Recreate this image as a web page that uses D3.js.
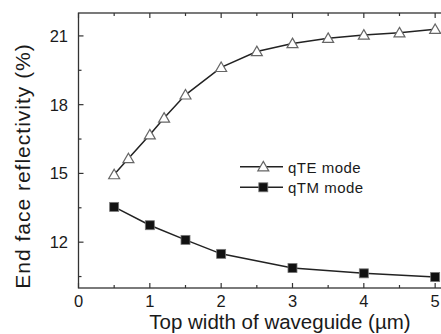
<!DOCTYPE html>
<html>
<head>
<meta charset="utf-8">
<script src="https://cdn.jsdelivr.net/npm/d3@7"></script>
<style>
  body { margin: 0; background: #fff; }
  text { font-family: Arial, "Liberation Sans", sans-serif; fill: #1a1a1a; }
</style>
</head>
<body>
<div class="chart"></div>
<script>

// Data
var teWidth = [0.5, 0.7, 1.0, 1.2, 1.5, 2.0, 2.5, 3.0, 3.5, 4.0, 4.5, 5.0];
var teRefl  = [14.95, 15.65, 16.69, 17.42, 18.43, 19.63, 20.32, 20.67, 20.9, 21.04, 21.14, 21.29];
var tmWidth = [0.5, 1.0, 1.5, 2.0, 3.0, 4.0, 5.0];
var tmRefl  = [13.54, 12.74, 12.1, 11.49, 10.87, 10.64, 10.48];
var xTicks = [0, 1, 2, 3, 4, 5];
var yTicks = [12, 15, 18, 21];
var seriesNames = ["qTE mode", "qTM mode"];

var W = 441, H = 334;

var svg = d3.select(".chart")
	.append("svg")
	.attr("width", W)
	.attr("height", H);

var x = d3.scaleLinear()
	.domain([0, 5.11])
	.range([78.5, 443]);

var y = d3.scaleLinear()
	.domain([10, 22])
	.range([288, 13]);

var axisColor = "#333";

// frame
svg.append("rect")
	.attr("x", x(0))
	.attr("y", y(22))
	.attr("width", x(5.11) - x(0))
	.attr("height", y(10) - y(22))
	.attr("fill", "none")
	.attr("stroke", axisColor)
	.attr("stroke-width", 1.3);

// ticks, inward
var xMinor = d3.range(0.5, 5.01, 1);
var yMinor = d3.range(10.5, 22, 3);

function xTickMarks(vals, len) {
	svg.append("g").selectAll("line.b")
		.data(vals).enter().append("line")
		.attr("x1", function(d) { return x(d); })
		.attr("x2", function(d) { return x(d); })
		.attr("y1", y(10)).attr("y2", y(10) - len)
		.attr("stroke", axisColor).attr("stroke-width", 1.2);
	svg.append("g").selectAll("line.t")
		.data(vals).enter().append("line")
		.attr("x1", function(d) { return x(d); })
		.attr("x2", function(d) { return x(d); })
		.attr("y1", y(22)).attr("y2", y(22) + len)
		.attr("stroke", axisColor).attr("stroke-width", 1.2);
}
function yTickMarks(vals, len) {
	svg.append("g").selectAll("line")
		.data(vals).enter().append("line")
		.attr("x1", x(0)).attr("x2", x(0) + len)
		.attr("y1", function(d) { return y(d); })
		.attr("y2", function(d) { return y(d); })
		.attr("stroke", axisColor).attr("stroke-width", 1.2);
}
xTickMarks(xTicks, 5);
xTickMarks(xMinor, 3);
yTickMarks(yTicks, 5);
yTickMarks(yMinor, 3);

// tick labels
svg.append("g").selectAll("text")
	.data(xTicks).enter().append("text")
	.attr("x", function(d) { return x(d); })
	.attr("y", 307)
	.attr("text-anchor", "middle")
	.style("font-size", "16.5px")
	.text(function(d) { return d; });

svg.append("g").selectAll("text")
	.data(yTicks).enter().append("text")
	.attr("x", 68)
	.attr("y", function(d) { return y(d) + 6; })
	.attr("text-anchor", "end")
	.style("font-size", "16.5px")
	.text(function(d) { return d; });

// axis titles
svg.append("text")
	.attr("x", 280)
	.attr("y", 329)
	.attr("text-anchor", "middle")
	.style("font-size", "20.5px")
	.text("Top width of waveguide (\u00b5m)");

svg.append("text")
	.attr("transform", "translate(30,166) rotate(-90)")
	.attr("text-anchor", "middle")
	.style("font-size", "21px")
	.style("letter-spacing", "1px")
	.text("End face reflectivity (%)");

// lines
var line = d3.line()
	.x(function(d) { return x(d[0]); })
	.y(function(d) { return y(d[1]); });

var te = d3.zip(teWidth, teRefl);
var tm = d3.zip(tmWidth, tmRefl);

svg.append("path").datum(te)
	.attr("d", line)
	.attr("fill", "none")
	.attr("stroke", "#222")
	.attr("stroke-width", 1.5);

svg.append("path").datum(tm)
	.attr("d", line)
	.attr("fill", "none")
	.attr("stroke", "#222")
	.attr("stroke-width", 1.5);

var tri = d3.symbol().type(d3.symbolTriangle).size(52);

function triangle(g, cx, cy) {
	g.append("path")
		.attr("d", tri)
		.attr("transform", "translate(" + cx + "," + (cy + 1) + ")")
		.attr("fill", "#fff")
		.attr("stroke", "#666")
		.attr("stroke-width", 1.2);
}
function square(g, cx, cy) {
	g.append("rect")
		.attr("x", cx - 4.5).attr("y", cy - 4.5)
		.attr("width", 9).attr("height", 9)
		.attr("fill", "#111")
		.attr("stroke", "#777")
		.attr("stroke-width", 0.8);
}

var markers = svg.append("g");
te.forEach(function(d) { triangle(markers, x(d[0]), y(d[1])); });
tm.forEach(function(d) { square(markers, x(d[0]), y(d[1])); });

// legend
var leg = svg.append("g");
var legY = [166.7, 187.3];
legY.forEach(function(ly, i) {
	leg.append("line")
		.attr("x1", 240).attr("x2", 283)
		.attr("y1", ly).attr("y2", ly)
		.attr("stroke", "#222").attr("stroke-width", 1.5);
	if (i == 0) triangle(leg, 263.3, ly); else square(leg, 263.3, ly);
	leg.append("text")
		.attr("x", 288)
		.attr("y", ly + 6)
		.style("font-size", "15px")
		.style("letter-spacing", "0.5px")
		.text(seriesNames[i]);
});

</script>
</body>
</html>
